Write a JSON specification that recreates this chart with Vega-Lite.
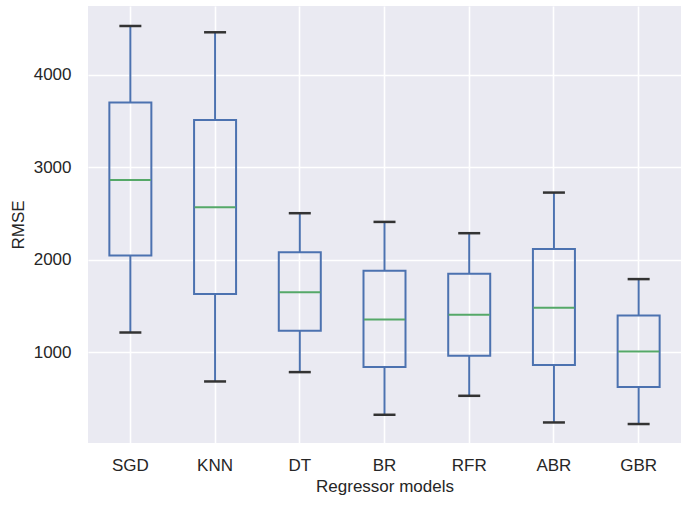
{
  "$schema": "https://vega.github.io/schema/vega-lite/v6.json",
  "width": 593,
  "height": 437,
  "autosize": {"type": "none"},
  "padding": {"left": 88, "top": 6, "right": 4, "bottom": 68},
  "background": "white",
  "config": {
    "view": {"fill": "#EAEAF2", "stroke": null},
    "font": "Liberation Sans",
    "axis": {"labelColor": "#262626", "titleColor": "#262626", "labelFontSize": 17, "titleFontSize": 17, "titleFontWeight": "normal", "gridColor": "white", "gridWidth": 1.6, "ticks": false, "domain": false}
  },
  "data": {
    "values": [
      {"model": "SGD", "lo": 1216, "q1": 2048, "med": 2865, "q3": 3700, "hi": 4528},
      {"model": "KNN", "lo": 687, "q1": 1631, "med": 2570, "q3": 3513, "hi": 4460},
      {"model": "DT", "lo": 788, "q1": 1234, "med": 1652, "q3": 2084, "hi": 2505},
      {"model": "BR", "lo": 327, "q1": 842, "med": 1356, "q3": 1882, "hi": 2411},
      {"model": "RFR", "lo": 532, "q1": 964, "med": 1407, "q3": 1850, "hi": 2289},
      {"model": "ABR", "lo": 244, "q1": 864, "med": 1483, "q3": 2117, "hi": 2728},
      {"model": "GBR", "lo": 227, "q1": 626, "med": 1011, "q3": 1400, "hi": 1793}
    ]
  },
  "encoding": {
    "x": {
      "field": "model", "type": "nominal", "sort": null,
      "scale": {"paddingInner": 0, "paddingOuter": 0},
      "axis": {"title": "Regressor models", "labelAngle": 0, "grid": true, "bandPosition": 0.5, "labelPadding": 14, "titlePadding": 5}
    }
  },
  "layer": [
    {
      "mark": {"type": "rule", "color": "#4C72B0", "strokeWidth": 2},
      "encoding": {
        "y": {"field": "lo", "type": "quantitative", "scale": {"domain": [22, 4744], "nice": false, "zero": false},
          "axis": {"title": "RMSE", "values": [1000, 2000, 3000, 4000], "format": "d", "grid": true, "labelPadding": 17, "titlePadding": 6}},
        "y2": {"field": "q1"}
      }
    },
    {
      "mark": {"type": "rule", "color": "#4C72B0", "strokeWidth": 2},
      "encoding": {"y": {"field": "q3", "type": "quantitative"}, "y2": {"field": "hi"}}
    },
    {
      "mark": {"type": "bar", "fill": "#EAEAF2", "fillOpacity": 0, "stroke": "#4C72B0", "strokeWidth": 2, "width": 42},
      "encoding": {"y": {"field": "q1", "type": "quantitative"}, "y2": {"field": "q3"}}
    },
    {
      "mark": {"type": "tick", "color": "#55A868", "size": 41, "thickness": 2, "opacity": 1},
      "encoding": {"y": {"field": "med", "type": "quantitative"}}
    },
    {
      "mark": {"type": "tick", "color": "#333333", "size": 22, "thickness": 2.5, "opacity": 1},
      "encoding": {"y": {"field": "lo", "type": "quantitative"}}
    },
    {
      "mark": {"type": "tick", "color": "#333333", "size": 22, "thickness": 2.5, "opacity": 1},
      "encoding": {"y": {"field": "hi", "type": "quantitative"}}
    }
  ]
}
